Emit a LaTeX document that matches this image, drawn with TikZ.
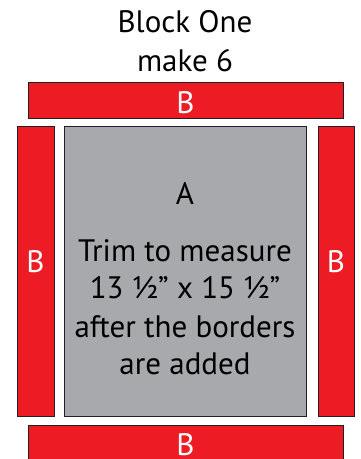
\documentclass[tikz,border=0pt]{standalone}
\usepackage{fontspec}
\setmainfont{PT Sans}
\definecolor{stripred}{HTML}{ED1C24}
\definecolor{blockgray}{HTML}{A7A9AC}
\definecolor{edgeline}{HTML}{231F20}
\begin{document}
\begin{tikzpicture}[x=1pt,y=-1pt,
      piece/.style={draw=edgeline,line width=0.8pt,inner sep=0pt},
      border piece/.style={piece,fill=stripred},
      centre piece/.style={piece,fill=blockgray},
      big text/.style={font=\fontsize{31}{38}\selectfont,align=center,inner sep=0pt},
      piece label/.style={big text,text=white}]
  \useasboundingbox (0,0) rectangle (361,459);

  % title
  \node[big text,anchor=base] (title) at (185,32) {Block One};
  \node[big text,anchor=base] (count) at (185,71) {make 6};

  % the five pieces
  \node[border piece,minimum width=315pt,minimum height=36pt] (top) at (185.5,100) {};
  \node[border piece,minimum width=37pt,minimum height=290pt] (left) at (35.5,271) {};
  \node[centre piece,minimum width=242pt,minimum height=290pt] (A) at (185,271) {};
  \node[border piece,minimum width=36pt,minimum height=290pt] (right) at (336,271) {};
  \node[border piece,minimum width=315pt,minimum height=36pt] (bottom) at (185.5,443) {};

  % labels
  \node[piece label,anchor=base] (Btop) at (185.5,113) {B};
  \node[piece label,anchor=base] (Bleft) at (35.5,272) {B};
  \node[piece label,anchor=base] (Bright) at (336,272) {B};
  \node[piece label,anchor=base] (Bbottom) at (185.5,455) {B};
  \node[big text,anchor=base] (Aname) at (185,204) {A};
  \node[big text,anchor=base] (l1) at (185,261) {Trim to measure};
  \node[big text,anchor=base] (l2) at (185,298) {13 ½” x 15 ½”};
  \node[big text,anchor=base] (l3) at (185,337) {after the borders};
  \node[big text,anchor=base] (l4) at (185,374) {are added};
\end{tikzpicture}
\end{document}
